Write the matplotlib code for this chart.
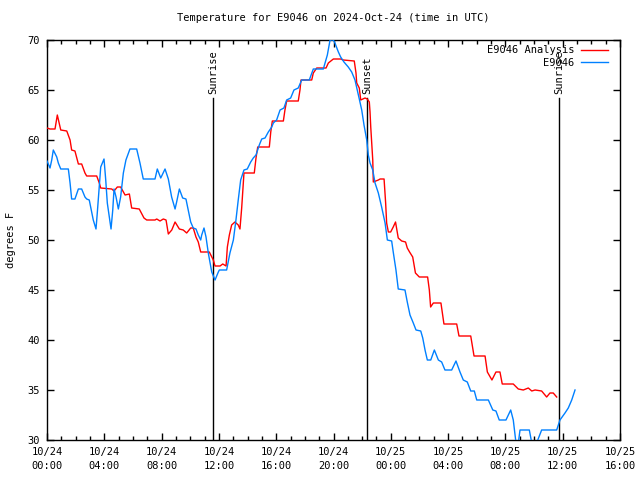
import matplotlib
matplotlib.use("Agg")
import matplotlib.pyplot as plt
from matplotlib.ticker import MultipleLocator

plt.rcParams['font.family'] = ['DejaVu Sans Mono']

# hours since 2024-10-24 00:00 UTC
analysis_h = [0.00, 0.21, 0.56, 0.72, 0.96, 1.38, 1.61, 1.72, 1.95, 2.19, 2.42, 2.65, 2.77, 3.47, 3.65, 3.75,
              4.52, 4.68, 4.91, 5.14, 5.45, 5.75, 5.91, 6.44, 6.77, 6.96, 7.54, 7.66, 7.89, 8.12, 8.31, 8.47,
              8.71, 8.94, 9.24, 9.51, 9.75, 10.03, 10.21, 10.40, 10.56, 10.73, 11.33, 11.50, 11.61, 11.73,
              12.08, 12.27, 12.50, 12.59, 12.73, 12.89, 13.12, 13.35, 13.47, 13.59, 13.75, 14.47, 14.59,
              14.71, 15.52, 15.62, 15.73, 16.50, 16.61, 16.73, 17.54, 17.66, 17.73, 18.48, 18.59, 18.83,
              19.48, 19.64, 19.99, 20.50, 20.68, 21.45, 21.57, 21.62, 21.80, 21.90, 22.20, 22.36, 22.50,
              22.55, 22.60, 22.67, 22.74, 22.78, 23.13, 23.25, 23.53, 23.64, 23.71, 23.83, 23.99, 24.17,
              24.33, 24.52, 24.76, 25.03, 25.15, 25.31, 25.53, 25.72, 25.99, 26.57, 26.69, 26.78, 26.97,
              27.50, 27.71, 28.60, 28.76, 29.58, 29.81, 30.58, 30.74, 31.06, 31.34, 31.62, 31.78, 32.55,
              32.90, 33.25, 33.60, 33.84, 34.07, 34.53, 34.88, 35.11, 35.34, 35.58]
analysis_t = [61.2, 61.1, 61.1, 62.5, 61.0, 60.9, 60.0, 59.0, 58.9, 57.6, 57.6, 56.7, 56.4, 56.4, 55.7, 55.2,
              55.1, 54.9, 55.3, 55.3, 54.5, 54.6, 53.2, 53.1, 52.2, 52.0, 52.0, 52.1, 51.9, 52.1, 52.0, 50.6,
              51.0, 51.8, 51.1, 51.0, 50.7, 51.2, 51.2, 50.3, 49.8, 48.8, 48.8, 48.3, 48.0, 47.4,
              47.4, 47.6, 47.4, 49.3, 50.5, 51.5, 51.8, 51.5, 51.1, 53.2, 56.7, 56.7, 58.2,
              59.3, 59.3, 60.8, 61.9, 61.9, 63.0, 63.9, 63.9, 65.0, 66.0, 66.0, 66.7, 67.2,
              67.2, 67.7, 68.1, 68.1, 68.0, 67.9, 66.7, 65.7, 65.2, 64.0, 64.2, 64.1, 63.8,
              62.8, 61.3, 59.7, 58.0, 55.8, 56.0, 56.1, 56.1, 53.7, 51.7, 50.8, 50.8, 51.3,
              51.8, 50.2, 49.9, 49.8, 49.2, 48.8, 48.3, 46.7, 46.3, 46.3, 45.0, 43.3, 43.7,
              43.7, 41.6, 41.6, 40.4, 40.4, 38.4, 38.4, 36.8, 36.0, 36.8, 36.8, 35.6, 35.6,
              35.1, 35.0, 35.2, 34.9, 35.0, 34.9, 34.3, 34.7, 34.7, 34.3]

obs_h = [0.00, 0.21, 0.33, 0.44, 0.68, 0.79, 0.96, 1.49, 1.61, 1.72, 1.95, 2.19, 2.42, 2.65, 2.77, 2.95,
         3.05, 3.23, 3.42, 3.51, 3.63, 3.75, 3.98, 4.10, 4.21, 4.35, 4.47, 4.59, 4.68, 4.82, 4.98, 5.14,
         5.33, 5.51, 5.79, 6.26, 6.49, 6.72, 7.54, 7.70, 7.94, 8.24, 8.47, 8.70, 8.94, 9.05, 9.24, 9.47,
         9.70, 9.86, 10.03, 10.21, 10.40, 10.56, 10.73, 10.80, 10.96, 11.10, 11.26, 11.50, 11.73, 11.96,
         12.03, 12.54, 12.77, 13.01, 13.19, 13.35, 13.52, 13.75, 13.98, 14.22, 14.40, 14.59, 14.82, 14.99,
         15.22, 15.45, 15.69, 15.80, 16.03, 16.27, 16.54, 16.73, 17.01, 17.24, 17.54, 17.78, 18.31, 18.59,
         19.29, 19.57, 19.76, 19.99, 20.10, 20.34, 20.50, 20.73, 21.03, 21.27, 21.50, 21.66, 21.80, 21.97,
         22.13, 22.32, 22.43, 22.55, 22.74, 22.90, 23.13, 23.36, 23.60, 23.76, 24.06, 24.17, 24.36, 24.52,
         24.99, 25.15, 25.34, 25.57, 25.76, 26.09, 26.23, 26.39, 26.55, 26.79, 27.04, 27.32, 27.55, 27.78,
         28.25, 28.55, 28.83, 29.06, 29.34, 29.58, 29.83, 30.00, 30.81, 31.12, 31.34, 31.57, 32.04, 32.37,
         32.55, 32.74, 32.90, 33.02, 33.67, 33.84, 34.18, 34.53, 35.58, 35.81, 36.16, 36.39, 36.63, 36.86]
obs_t = [57.9, 57.2, 58.0, 59.0, 58.3, 57.7, 57.1, 57.1, 55.7, 54.1, 54.1, 55.1, 55.1, 54.3, 54.1, 54.0,
         53.3, 52.0, 51.1, 52.7, 55.0, 57.3, 58.1, 56.0, 53.7, 52.3, 51.1, 53.0, 55.1, 54.3, 53.1, 54.3,
         56.7, 58.0, 59.1, 59.1, 57.7, 56.1, 56.1, 57.1, 56.2, 57.1, 56.1, 54.3, 53.1, 53.8, 55.1, 54.2,
         54.1, 53.0, 51.8, 51.2, 51.1, 50.5, 50.0, 50.5, 51.2, 50.3, 48.7, 46.8, 46.0, 46.8,
         47.0, 47.0, 48.7, 50.0, 52.0, 54.0, 56.0, 57.0, 57.1, 57.8, 58.2, 58.5, 59.5, 60.1,
         60.2, 60.8, 61.3, 61.7, 62.0, 63.0, 63.2, 64.0, 64.2, 65.0, 65.2, 66.0, 66.0, 67.1,
         67.1, 68.5, 70.0, 70.0, 69.7, 68.8, 68.3, 67.8, 67.3, 66.8, 66.0, 65.0, 64.1, 63.0,
         61.5, 60.0, 58.5, 57.7, 57.0, 55.7, 54.7, 53.3, 51.7, 50.0, 49.9, 48.8, 47.0, 45.1,
         45.0, 43.8, 42.5, 41.7, 41.0, 40.9, 40.2, 39.0, 38.0, 38.0, 39.0, 38.0, 37.8, 37.0,
         37.0, 37.9, 36.8, 36.0, 35.8, 34.9, 34.9, 34.0, 34.0, 33.0, 32.9, 32.0, 32.0, 33.0,
         32.0, 29.7, 29.7, 31.0, 31.0, 29.7, 29.7, 31.0, 31.0, 32.0, 32.7, 33.2, 34.0, 35.0]

sun_h = [11.59, 22.34, 35.74]
sun_labels = ["Sunrise", "Sunset", "Sunrise"]

xtick_h = [0, 4, 8, 12, 16, 20, 24, 28, 32, 36, 40]
xtick_labels = ["10/24\n00:00", "10/24\n04:00", "10/24\n08:00", "10/24\n12:00", "10/24\n16:00",
                "10/24\n20:00", "10/25\n00:00", "10/25\n04:00", "10/25\n08:00", "10/25\n12:00",
                "10/25\n16:00"]
yticks = [30, 35, 40, 45, 50, 55, 60, 65, 70]

fig = plt.figure(figsize=(6.4, 4.8), dpi=100)
ax = fig.add_axes([47/640, 1 - 440/480, (620-47)/640, 400/480])

ax.plot(analysis_h, analysis_t, color='#ff0000', lw=1.0, label='E9046 Analysis', zorder=3)
ax.plot(obs_h, obs_t, color='#0080ff', lw=1.0, label='E9046', zorder=3)

for h, lab in zip(sun_h, sun_labels):
    ax.plot([h, h], [30, 64.2], color='black', lw=1.0, zorder=2)
    ax.text(h, 64.6, lab, rotation=90, ha='center', va='bottom', fontsize=7.5)

ax.set_xlim(0, 40)
ax.set_ylim(30, 70)
ax.set_xticks(xtick_h)
ax.set_xticklabels(xtick_labels, fontsize=7.5, linespacing=1.5)
ax.xaxis.set_minor_locator(MultipleLocator(1))
ax.set_yticks(yticks)
ax.set_yticklabels([str(v) for v in yticks], fontsize=7.5)
ax.tick_params(which='both', direction='in', top=True, right=True, width=1.0, color='black')
ax.tick_params(which='major', length=5, pad=5)
ax.tick_params(which='minor', length=3)
for s in ax.spines.values():
    s.set_linewidth(1.0)

ax.set_ylabel('degrees F', fontsize=7.5, labelpad=8)
ax.set_title('Temperature for E9046 on 2024-Oct-24 (time in UTC)', fontsize=7.5, pad=14)

leg = ax.legend(loc='upper right', bbox_to_anchor=(1 - 6/573, 1 + 1/400), frameon=False,
                markerfirst=False, fontsize=7.5, handlelength=2.6, labelspacing=0.25,
                borderaxespad=0.2, handletextpad=0.6)

fig.savefig('out.png', dpi=100)
